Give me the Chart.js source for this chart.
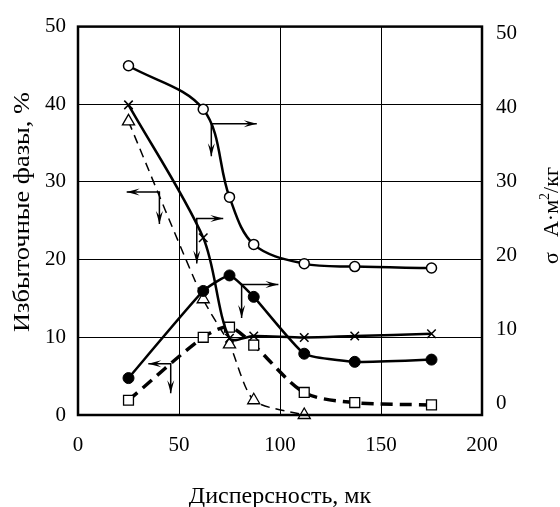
<!DOCTYPE html>
<html>
<head>
<meta charset="utf-8">
<style>html,body{margin:0;padding:0;background:#fff;}</style>
<script src="https://cdn.jsdelivr.net/npm/chart.js@4/dist/chart.umd.min.js"></script>
</head>
<body>
<canvas id="chart1" width="560" height="507"></canvas>
<script>
const xTicks = [0, 50, 100, 150, 200];
const yTicks = [0, 10, 20, 30, 40, 50];
const sizes = [25, 62, 75, 87, 112, 137, 175];
// right axis series
const openCircles = [45.7, 39.8, 27.9, 21.5, 18.9, 18.5, 18.3];
const crosses = [40.4, 22.4, 8.8, 9.1, 8.9, 9.1, 9.4];
const filledCircles = [3.4, 15.2, 17.3, 14.4, 6.7, 5.6, 5.9];
// left axis series
const triangleSizes = [25, 62, 75, 87, 112];
const triangles = [37.8, 14.9, 9.1, 1.9, 0];
const squares = [1.9, 10.0, 11.3, 9.0, 2.9, 1.6, 1.3];
// arrows in left-axis units: [cornerX, cornerY, horizontalEndX, verticalEndY]
const arrows = [
    [66, 37.5, 88.5, 33.3],
    [40.3, 28.7, 24.1, 24.6],
    [58.8, 25.3, 71.9, 19.5],
    [81, 16.8, 99.2, 12.5],
    [45.9, 6.6, 34.8, 2.8]
];
const xTitle = 'Дисперсность, мк';
const yTitle = 'Избыточные фазы, %';

const serif = "'Liberation Serif', 'Times New Roman', serif";
const toPoints = (xs, ys) => xs.map((x, i) => ({x: x, y: ys[i]}));

const arrowHead = (ctx, x1, y1, x2, y2) => {
    const a = Math.atan2(y2 - y1, x2 - x1);
    const len = 13, w = 3.5;
    ctx.beginPath();
    ctx.moveTo(x2, y2);
    ctx.lineTo(x2 - len * Math.cos(a) + w * Math.sin(a), y2 - len * Math.sin(a) - w * Math.cos(a));
    ctx.lineTo(x2 - 0.6 * len * Math.cos(a), y2 - 0.6 * len * Math.sin(a));
    ctx.lineTo(x2 - len * Math.cos(a) - w * Math.sin(a), y2 - len * Math.sin(a) + w * Math.cos(a));
    ctx.closePath();
    ctx.fill();
};

const extras = {
    id: 'extras',
    afterDatasetsDraw(chart) {
        const ctx = chart.ctx;
        const xs = chart.scales.x, ys = chart.scales.y;
        const area = chart.chartArea;
        ctx.save();
        ctx.strokeStyle = '#000';
        ctx.fillStyle = '#000';
        ctx.lineWidth = 1.5;
        arrows.forEach(([cx, cy, hx, vy]) => {
            const px = xs.getPixelForValue(cx), py = ys.getPixelForValue(cy);
            const hpx = xs.getPixelForValue(hx), vpy = ys.getPixelForValue(vy);
            ctx.beginPath();
            ctx.moveTo(hpx, py);
            ctx.lineTo(px, py);
            ctx.lineTo(px, vpy);
            ctx.stroke();
            arrowHead(ctx, px, py, hpx, py);
            arrowHead(ctx, px, py, px, vpy);
        });
        // plot frame
        ctx.lineWidth = 2.5;
        ctx.strokeRect(area.left, area.top, area.right - area.left, area.bottom - area.top);

        // x title
        ctx.textBaseline = 'alphabetic';
        ctx.textAlign = 'center';
        ctx.font = '24px ' + serif;
        ctx.fillText(xTitle, (area.left + area.right) / 2, 503);

        // left title, read bottom to top
        ctx.save();
        ctx.translate(28.5, 212);
        ctx.rotate(-Math.PI / 2);
        ctx.scale(1.1, 1);
        ctx.font = '24px ' + serif;
        ctx.fillText(yTitle, 0, 0);
        ctx.restore();

        // right title, read bottom to top, cut by the edge
        ctx.translate(558, 264);
        ctx.rotate(-Math.PI / 2);
        ctx.textAlign = 'left';
        const parts = [
            ['σ', 22, 0], ['s,', 15, 10], [' A·м', 22, 0], ['2', 14, -9], ['/кг', 22, 0]
        ];
        let pos = 0;
        parts.forEach(([t, size, dy]) => {
            ctx.font = size + 'px ' + serif;
            ctx.fillText(t, pos, dy);
            pos += ctx.measureText(t).width;
        });
        ctx.restore();
    }
};

const chart = document.getElementById('chart1');

const data = {
    datasets: [
        {
            data: toPoints(sizes, openCircles),
            yAxisID: 'y2',
            borderColor: '#000',
            borderWidth: 2.5,
            tension: 0.35,
            pointStyle: 'circle',
            pointRadius: 5,
            pointBorderWidth: 1.5,
            pointBackgroundColor: '#fff'
        },
        {
            data: toPoints(sizes, crosses),
            yAxisID: 'y2',
            borderColor: '#000',
            borderWidth: 2.5,
            tension: 0.3,
            pointStyle: 'crossRot',
            pointRadius: 6,
            pointBorderWidth: 1.5,
            pointBackgroundColor: '#fff'
        },
        {
            data: toPoints(sizes, filledCircles),
            yAxisID: 'y2',
            borderColor: '#000',
            borderWidth: 2.5,
            tension: 0.15,
            pointStyle: 'circle',
            pointRadius: 5.5,
            pointBorderWidth: 1,
            pointBackgroundColor: '#000'
        },
        {
            data: toPoints(triangleSizes, triangles),
            yAxisID: 'y',
            borderColor: '#000',
            borderWidth: 1.5,
            borderDash: [9, 6],
            tension: 0.25,
            pointStyle: 'triangle',
            pointRadius: 7,
            pointBorderWidth: 1.3,
            pointBackgroundColor: '#fff'
        },
        {
            data: toPoints(sizes, squares),
            yAxisID: 'y',
            borderColor: '#000',
            borderWidth: 3.5,
            borderDash: [12, 7],
            tension: 0.3,
            pointStyle: 'rect',
            pointRadius: 7,
            pointBorderWidth: 1.3,
            pointBackgroundColor: '#fff'
        }
    ]
};

const tickFont = {family: serif, size: 21};

const config = {
    type: 'scatter',
    data: data,
    options: {
        responsive: false,
        animation: false,
        layout: {padding: {top: 23, left: 0, right: 0, bottom: 0}},
        plugins: {legend: {display: false}, tooltip: {enabled: false}},
        datasets: {scatter: {showLine: true, clip: false}},
        scales: {
            x: {
                type: 'linear', min: 0, max: 200,
                afterBuildTicks: (s) => { s.ticks = xTicks.map(v => ({value: v})); },
                afterFit: (s) => { s.height = 92; },
                ticks: {font: tickFont, color: '#000', padding: 18},
                grid: {color: '#000', lineWidth: 1, drawTicks: false},
                border: {display: false}
            },
            y: {
                position: 'left', min: 0, max: 50,
                afterBuildTicks: (s) => { s.ticks = yTicks.map(v => ({value: v})); },
                afterFit: (s) => { s.width = 78; },
                ticks: {font: tickFont, color: '#000', padding: 12},
                grid: {color: '#000', lineWidth: 1, drawTicks: false},
                border: {display: false}
            },
            y2: {
                position: 'right', min: -1.6, max: 51,
                afterBuildTicks: (s) => { s.ticks = yTicks.map(v => ({value: v})); },
                afterFit: (s) => { s.width = 78; },
                ticks: {font: tickFont, color: '#000', padding: 14},
                grid: {display: false, drawTicks: false},
                border: {display: false}
            }
        }
    },
    plugins: [extras]
};

new Chart(chart, config);
</script>
</body>
</html>
